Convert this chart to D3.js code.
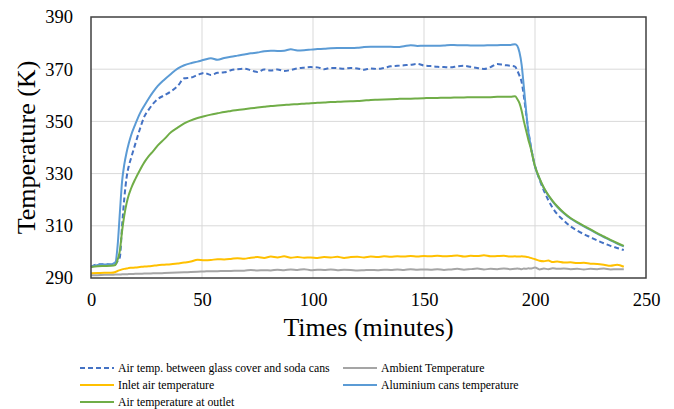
<!DOCTYPE html>
<html>
<head>
<meta charset="utf-8">
<script src="https://cdn.jsdelivr.net/npm/d3@7"></script>
<style>
  html, body { margin: 0; padding: 0; background: #fff; }
  svg { display: block; }
  svg text { font-family: "Liberation Serif", "Times New Roman", serif !important; }
</style>
</head>
<body>
<svg id="chart" width="674" height="409"></svg>
<script>
// Sampling times (minutes)
const times = [
  0, 3, 6, 9,
  11, 12, 13, 14, 15, 16, 17, 18,
  20, 22, 24, 26, 28, 30,
  33, 36, 39, 42, 45, 48, 51, 54, 57, 60,
  63, 66, 69, 72, 75, 78, 81, 84, 87, 90,
  93, 96, 99, 102, 105, 108, 111, 114, 117, 120,
  123, 126, 129, 132, 135, 138, 141, 144, 147, 150,
  153, 156, 159, 162, 165, 168, 171, 174, 177, 180,
  183, 186, 189,
  191, 192, 193, 194, 195, 196, 197, 198,
  200, 202, 204, 206, 208, 210,
  213, 216, 219, 222, 225, 228, 231, 234, 237, 240
];

// Temperatures (K)
const airGlassCans = [
  294.3, 295.2, 295.3, 295.2,
  295.3, 296.5, 298.0, 310.0, 320.5, 328.3, 332.8, 335.8,
  341.5, 347.0, 351.8, 354.5, 356.8, 358.5,
  360.0, 361.5, 363.5, 366.5, 366.8, 367.8, 368.6, 367.8, 368.6, 368.8,
  369.6, 370.0, 370.2, 369.6, 368.9, 369.9, 369.5, 369.9, 369.3, 369.7,
  370.3, 370.6, 370.8, 370.7, 370.0, 370.5, 370.4, 370.2, 370.5, 370.3,
  369.8, 370.3, 370.1, 370.5, 371.1, 371.3, 371.5, 371.7, 372.0, 371.4,
  371.2, 370.9, 370.8, 370.7, 371.1, 371.3, 370.9, 370.5, 370.1, 370.8,
  372.0, 371.6, 371.3,
  371.0, 369.5, 367.5, 365.0, 359.5, 353.0, 346.5, 341.0,
  333.0, 327.8, 323.5, 319.8, 316.8, 314.5,
  312.0, 309.8, 308.2, 306.8, 305.6, 304.4, 303.3, 302.3, 301.5, 300.7
];

const ambient = [
  291.1, 291.1, 291.2, 291.2,
  291.3, 291.3, 291.3, 291.4, 291.4, 291.4, 291.5, 291.5,
  291.6, 291.6, 291.7, 291.7, 291.8, 291.8,
  291.9, 292.0, 292.1, 292.2, 292.3, 292.4, 292.5, 292.6, 292.6, 292.7,
  292.7, 292.8, 292.8, 293.1, 292.9, 293.0, 292.9, 293.2, 293.0, 293.3,
  293.1, 293.4, 293.0, 293.2, 293.1, 293.3, 293.0, 293.2, 293.1, 292.9,
  293.0, 293.1, 293.0, 293.2, 293.1, 293.3, 293.1, 293.4, 293.2, 293.3,
  293.2, 293.4, 293.1, 293.3, 293.5, 293.2, 293.4, 293.6, 293.3, 293.5,
  293.4, 293.6, 293.4,
  293.5, 293.6, 293.5, 293.4, 293.6, 293.5, 293.7, 293.6,
  294.0, 293.3, 293.6, 293.4, 293.7, 293.5,
  293.6, 293.4, 293.5, 293.3, 293.5, 293.4, 293.6, 293.3, 293.4, 293.4
];

const inletAir = [
  291.8, 291.9, 292.0, 292.0,
  292.3, 292.7, 293.0, 293.3, 293.5, 293.6, 293.8, 293.9,
  294.0, 294.2, 294.4, 294.5, 294.7, 294.9,
  295.1, 295.3, 295.6, 295.9, 296.3, 297.0, 296.8, 296.9, 297.2, 297.1,
  297.3, 297.6, 297.4, 297.8, 298.0, 297.7, 298.2, 297.9, 298.3, 297.8,
  298.0, 297.8, 297.9, 297.7, 298.0, 297.9, 298.1, 297.7, 298.0, 298.1,
  297.9, 298.2, 298.0, 298.3, 298.1, 298.3, 298.2, 298.4, 298.2, 298.4,
  298.3, 298.5, 298.3, 298.4, 298.6, 298.2, 298.5, 298.4, 298.7, 298.3,
  298.4, 298.5, 298.2,
  298.3, 298.2, 298.2, 298.3, 298.2, 298.1, 298.0, 297.7,
  297.2, 296.6, 296.4, 296.7, 296.1, 296.3,
  295.9, 296.0, 295.7, 295.8, 295.5, 295.4, 295.1, 294.7, 295.1, 294.3
];

const aluminiumCans = [
  294.3, 295.0, 295.2, 295.2,
  296.0, 302.5, 315.0, 327.0, 333.5, 338.0, 341.5, 344.5,
  349.0, 353.0, 356.0, 358.8, 361.3, 363.5,
  366.0, 368.2, 370.2, 371.5, 372.3, 372.9, 373.6, 374.2, 373.6, 374.3,
  374.8, 375.2, 375.6, 376.1, 376.4, 376.9, 377.1, 377.0, 377.1, 377.6,
  377.2, 377.3, 377.5, 377.7, 377.8, 378.0, 378.1, 378.1, 378.1, 378.2,
  378.5, 378.6, 378.6, 378.6, 378.6, 378.5, 378.8, 379.2, 378.9, 379.0,
  379.0, 379.0, 379.1, 379.3, 379.2, 379.2, 379.1, 379.1, 379.1, 379.2,
  379.2, 379.3, 379.3,
  379.6, 379.0, 376.5, 371.6, 363.0, 354.0, 346.0, 341.0,
  332.6, 328.1, 324.4, 321.6, 319.3, 317.3,
  314.8, 312.8, 311.2, 309.8, 308.4, 307.0, 305.7, 304.4, 303.2, 302.1
];

const outletAir = [
  294.2, 294.5, 294.6, 294.7,
  295.0, 297.0, 300.5, 308.0, 314.0, 318.5, 321.8, 324.2,
  328.0, 331.3, 334.3, 336.7, 338.6, 340.7,
  343.2, 345.8, 347.6, 349.2, 350.4, 351.3, 352.0, 352.6, 353.1, 353.6,
  354.0, 354.4, 354.7, 355.0, 355.3, 355.6, 355.9, 356.1, 356.3, 356.5,
  356.6, 356.8, 357.0, 357.1, 357.2, 357.4, 357.5, 357.6, 357.7, 357.8,
  358.0, 358.2, 358.3, 358.4, 358.5, 358.6, 358.7, 358.7, 358.8, 358.9,
  359.0, 359.0, 359.1, 359.1, 359.2, 359.2, 359.3, 359.3, 359.3, 359.3,
  359.4, 359.4, 359.4,
  359.6, 358.6, 357.0, 354.0, 350.0, 346.5, 343.0, 340.0,
  332.8, 328.3, 324.6, 321.8, 319.5, 317.5,
  315.0, 313.0, 311.4, 310.0, 308.6, 307.2, 305.9, 304.6, 303.4, 302.3
];

const xTicks = [0, 50, 100, 150, 200, 250];
const yTicks = [290, 310, 330, 350, 370, 390];

const seriesNames = [
  "Air temp. between glass cover and soda cans",
  "Ambient Temperature",
  "Inlet air temperature",
  "Aluminium cans temperature",
  "Air temperature at outlet"
];
const seriesValues = [airGlassCans, ambient, inletAir, aluminiumCans, outletAir];
const seriesColors = ["#4472C4", "#A5A5A5", "#FFC000", "#5B9BD5", "#70AD47"];
const seriesDash = ["5,3", null, null, null, null];

const serif = '"Liberation Serif", "Times New Roman", serif';
const svg = d3.select("#chart").style("font-family", serif);
const plot = { left: 91, right: 646, top: 17, bottom: 278 };

const x = d3.scaleLinear().domain([0, 250]).range([plot.left, plot.right]);
const y = d3.scaleLinear().domain([290, 390]).range([plot.bottom, plot.top]);

// Grid lines
const grid = svg.append("g");
grid.selectAll("line.gx")
  .data(xTicks.filter(d => d > 0 && d < 250))
  .join("line")
  .attr("x1", d => x(d)).attr("x2", d => x(d))
  .attr("y1", plot.top).attr("y2", plot.bottom)
  .attr("stroke", "#D9D9D9").attr("stroke-width", 1);
grid.selectAll("line.gy")
  .data(yTicks.filter(d => d > 290 && d < 390))
  .join("line")
  .attr("x1", plot.left).attr("x2", plot.right)
  .attr("y1", d => y(d)).attr("y2", d => y(d))
  .attr("stroke", "#D9D9D9").attr("stroke-width", 1);

// Axes (labels only)
const xAxis = svg.append("g")
  .attr("transform", `translate(0,${plot.bottom})`)
  .call(d3.axisBottom(x).tickValues(xTicks).tickSize(0).tickPadding(21));
const yAxis = svg.append("g")
  .attr("transform", `translate(${plot.left},0)`)
  .call(d3.axisLeft(y).tickValues(yTicks).tickSize(0).tickPadding(18));
[xAxis, yAxis].forEach(a => {
  a.attr("font-family", null).style("font-family", serif);
  a.select(".domain").remove();
  a.selectAll("text")
    .style("font-family", serif)
    .attr("font-size", 18.5)
    .attr("fill", "#000");
});
xAxis.selectAll("text").attr("dy", "0.71em").attr("y", 15);

// Series lines
const line = d3.line()
  .x((d, i) => x(times[i]))
  .y(d => y(d))
  .curve(d3.curveMonotoneX);

const lines = svg.append("g");
seriesValues.forEach((vals, k) => {
  lines.append("path")
    .datum(vals)
    .attr("d", line)
    .attr("fill", "none")
    .attr("stroke", seriesColors[k])
    .attr("stroke-width", 2)
    .attr("stroke-linejoin", "round")
    .attr("stroke-dasharray", seriesDash[k]);
});

// Plot frame
svg.append("rect")
  .attr("x", plot.left).attr("y", plot.top)
  .attr("width", plot.right - plot.left).attr("height", plot.bottom - plot.top)
  .attr("fill", "none").attr("stroke", "#404040").attr("stroke-width", 1.5);

// Axis titles
svg.append("text")
  .attr("x", (plot.left + plot.right) / 2).attr("y", 336)
  .attr("text-anchor", "middle")
  .attr("font-size", 26).attr("fill", "#000")
  .text("Times (minutes)");
svg.append("text")
  .attr("transform", `translate(35,${(plot.top + plot.bottom) / 2}) rotate(-90)`)
  .attr("text-anchor", "middle")
  .attr("font-size", 26).attr("fill", "#000")
  .text("Temperature (K)");

// Legend
const legendPos = [
  { lx: 80, ly: 368 }, { lx: 343, ly: 368 },
  { lx: 80, ly: 385 }, { lx: 343, ly: 385 },
  { lx: 80, ly: 402 }
];
const legend = svg.append("g");
seriesNames.forEach((name, k) => {
  const p = legendPos[k];
  legend.append("line")
    .attr("x1", p.lx).attr("x2", p.lx + 34)
    .attr("y1", p.ly).attr("y2", p.ly)
    .attr("stroke", seriesColors[k]).attr("stroke-width", 2)
    .attr("stroke-dasharray", seriesDash[k]);
  legend.append("text")
    .attr("x", p.lx + 38).attr("y", p.ly)
    .attr("dy", "0.35em")
    .attr("font-size", 11.8).attr("fill", "#000")
    .text(name);
});
</script>
</body>
</html>
